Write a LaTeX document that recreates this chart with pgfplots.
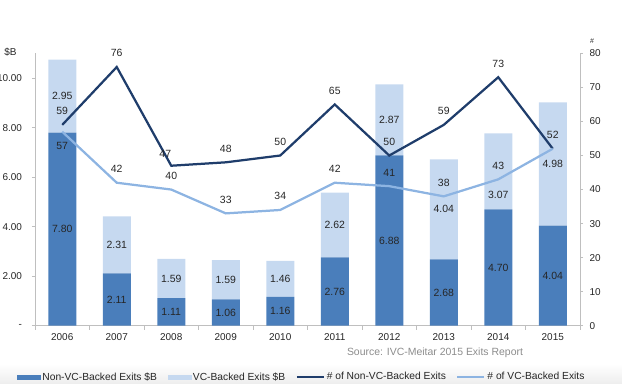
\documentclass[border=0pt]{standalone}
\usepackage{pgfplots}
\pgfplotsset{compat=1.18}
\usepackage{fontspec}
\setmainfont{Liberation Sans}
\definecolor{barDark}{HTML}{4A7EBB}
\definecolor{barLight}{HTML}{C6D9F0}
\definecolor{lineDark}{HTML}{1F3D6B}
\definecolor{lineLight}{HTML}{8DB4E2}
\definecolor{axisGrey}{HTML}{BFBFBF}
\definecolor{txt}{HTML}{262626}
\pgfplotsset{
  base/.style={
    scale only axis, width=545bp, height=272.3bp,
    xmin=-0.5, xmax=9.5,
    tick label style={font=\fontsize{10}{12}\selectfont, text=txt},
    axis line style={axisGrey, line width=0.75pt, -},
    tick style={axisGrey, line width=0.75pt},
  }
}
\begin{document}
\begin{tikzpicture}
\shade[top color=white, bottom color=black!7] (-35bp,-58.3bp) rectangle (587bp,-38bp);
% bars
\begin{axis}[base,
  ymin=0, ymax=11,
  axis y line*=left, axis x line*=bottom,
  ybar stacked, bar width=28bp,
  xtick={0,...,9}, xticklabels={2006,2007,2008,2009,2010,2011,2012,2013,2014,2015},
  xticklabel style={yshift=-1.5bp},
  major x tick style={draw=none},
  minor xtick={-0.5,0.5,...,9.5},
  minor tick length=4bp, major tick length=3bp,
  tick align=outside,
  ytick={0,2,4,6,8,10}, yticklabels={-,2.00,4.00,6.00,8.00,10.00},
  yticklabel style={xshift=-6.5bp},
]
\addplot[fill=barDark, draw=none] coordinates {(0,7.80) (1,2.11) (2,1.11) (3,1.06) (4,1.16) (5,2.76) (6,6.88) (7,2.68) (8,4.70) (9,4.04)};
\addplot[fill=barLight, draw=none] coordinates {(0,2.95) (1,2.31) (2,1.59) (3,1.59) (4,1.46) (5,2.62) (6,2.87) (7,4.04) (8,3.07) (9,4.98)};
\end{axis}
% bar labels
\begin{axis}[base, hide axis, ymin=0, ymax=11,
  nodes near coords, point meta=explicit symbolic,
  every node near coord/.append style={anchor=center, font=\fontsize{10.5}{12}\selectfont, text=txt},
]
\addplot[draw=none, mark=none] coordinates {(0,3.90)[7.80] (1,1.055)[2.11] (2,0.555)[1.11] (3,0.53)[1.06] (4,0.58)[1.16] (5,1.38)[2.76] (6,3.44)[6.88] (7,1.34)[2.68] (8,2.35)[4.70] (9,2.02)[4.04]};
\addplot[draw=none, mark=none] coordinates {(0,9.275)[2.95] (1,3.265)[2.31] (2,1.905)[1.59] (3,1.855)[1.59] (4,1.89)[1.46] (5,4.07)[2.62] (6,8.315)[2.87] (7,4.70)[4.04] (8,5.3)[3.07] (9,6.53)[4.98]};
\end{axis}
% lines
\begin{axis}[base, ymin=0, ymax=80,
  axis y line*=right, axis x line=none,
  ytick={0,10,...,80}, tick align=outside, major tick length=3bp,
  yticklabel style={xshift=3bp},
  /pgf/number format/assume math mode=true,
  point meta=explicit symbolic,
  every node near coord/.append style={font=\fontsize{10.5}{12}\selectfont, text=txt},
  legend columns=4,
  legend style={draw=none, fill=none, inner sep=0pt, outer sep=0pt,
    at={(-0.033,-0.1884)}, anchor=west, font=\fontsize{10.3}{12}\selectfont,
    text=txt, /tikz/every even column/.append style={column sep=8.5bp}},
]
\addplot[lineDark, line width=2.25pt, mark=none, forget plot,
  nodes near coords, every node near coord/.append style={anchor=south, yshift=5.5bp}]
  coordinates {(0,59)[59] (1,76)[76] (2,47)[] (3,48)[48] (4,50)[50] (5,65)[65] (6,50)[50] (7,59)[59] (8,73)[73] (9,52)[52]};
\addplot[draw=none, mark=none, forget plot,
  nodes near coords, every node near coord/.append style={anchor=south, yshift=5bp, xshift=-6bp}]
  coordinates {(2,47)[47]};
\addplot[lineLight, line width=2.25pt, mark=none, forget plot,
  nodes near coords, every node near coord/.append style={anchor=south, yshift=5.5bp}]
  coordinates {(0,57)[] (1,42)[42] (2,40)[40] (3,33)[33] (4,34)[34] (5,42)[42] (6,41)[41] (7,38)[38] (8,43)[43] (9,52)[]};
\addplot[draw=none, mark=none, forget plot,
  nodes near coords, every node near coord/.append style={anchor=north, yshift=-7bp}]
  coordinates {(0,57)[57]};
\addlegendimage{legend image code/.code={\fill[barDark] (0bp,-2.2bp) rectangle (23bp,2.2bp);}}
\addlegendentry{Non-VC-Backed Exits \$B}
\addlegendimage{legend image code/.code={\fill[barLight] (0bp,-2.2bp) rectangle (23bp,2.2bp);}}
\addlegendentry{VC-Backed Exits \$B}
\addlegendimage{legend image code/.code={\draw[lineDark, line width=2pt] (0bp,0bp) -- (27bp,0bp);}}
\addlegendentry{\# of Non-VC-Backed Exits}
\addlegendimage{legend image code/.code={\draw[lineLight, line width=2pt] (0bp,0bp) -- (27bp,0bp);}}
\addlegendentry{\# of VC-Backed Exits}
\end{axis}
\node[font=\fontsize{10.5}{12}\selectfont, text=black!45] at (400bp,-27.3bp) {Source: IVC-Meitar 2015 Exits Report};
\node[font=\fontsize{10}{12}\selectfont, text=txt] at (-24.5bp,273.7bp) {\$B};
\node[font=\fontsize{7}{8}\selectfont, text=txt] at (557bp,285bp) {\#};
\pgfresetboundingbox
\useasboundingbox (-35bp,-58.3bp) rectangle (587bp,325.7bp);
\end{tikzpicture}
\end{document}
